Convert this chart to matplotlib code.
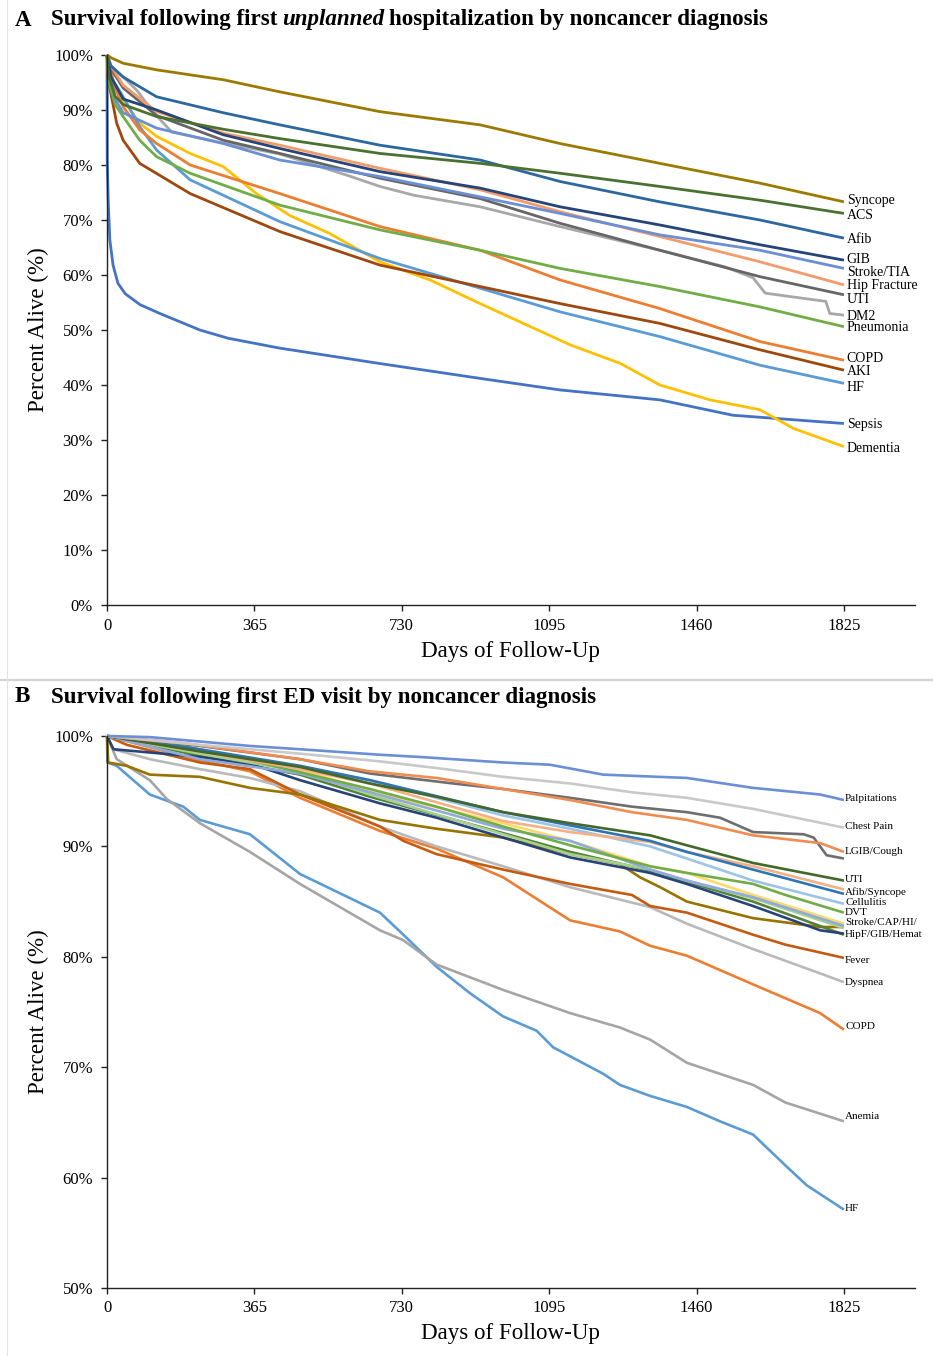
import matplotlib
matplotlib.use("Agg")
import matplotlib.pyplot as plt
from matplotlib.lines import Line2D

plt.rcParams['font.family'] = ['Liberation Serif', 'DejaVu Serif']

DAY_TICKS = [0, 365, 730, 1095, 1460, 1825]

# ---------------- Panel A: first unplanned hospitalization (day, % alive)
A_SYNCOPE = [(0, 100), (10, 99.5), (40, 98.5), (123, 97.3), (288, 95.5), (428, 93.3), (676, 89.7),
             (924, 87.3), (1122, 83.9), (1369, 80.3), (1617, 76.7), (1825, 73.3)]
A_ACS = [(0, 100), (5, 96), (20, 92.5), (40, 91), (123, 88.8), (288, 86.5), (428, 84.8), (676, 82.1),
         (924, 80.3), (1122, 78.5), (1369, 76.1), (1617, 73.6), (1825, 71.2)]
A_AFIB = [(0, 100), (10, 98), (40, 96), (123, 92.4), (288, 89.5), (428, 87.3), (676, 83.6),
          (924, 80.9), (1122, 77.0), (1369, 73.3), (1617, 70.0), (1825, 66.7)]
A_GIB = [(0, 100), (10, 96), (40, 92), (123, 90), (288, 85.5), (428, 83.0), (676, 78.8),
         (924, 75.8), (1122, 72.4), (1369, 69.1), (1617, 65.5), (1825, 62.7)]
A_STROKE_TIA = [(0, 100), (5, 97.5), (20, 92), (40, 89.5), (123, 86.7), (288, 83.9), (428, 80.9),
                (676, 77.9), (924, 74.2), (1122, 71.2), (1369, 67.3), (1617, 64.5), (1825, 61.2)]
A_HIP_FRACTURE = [(0, 100), (10, 98), (40, 94.5), (123, 89.7), (288, 85.8), (428, 83.6), (676, 79.4),
                  (924, 75.5), (1122, 71.5), (1369, 67.0), (1617, 62.4), (1825, 58.2)]
A_UTI = [(0, 100), (10, 97.5), (40, 94), (123, 89), (288, 84.5), (428, 82.1), (676, 77.6),
         (924, 73.9), (1122, 69.4), (1369, 64.5), (1617, 59.7), (1825, 56.4)]
A_DM2 = [(0, 100), (10, 98), (40, 96), (75, 93.5), (110, 90), (160, 86), (288, 84), (428, 82),
         (600, 78), (676, 76.1), (760, 74.5), (924, 72.4), (1122, 68.8), (1369, 64.5), (1530, 61.5),
         (1600, 59.5), (1630, 56.7), (1780, 55.2), (1790, 53.0), (1825, 52.7)]
A_PNEUMONIA = [(0, 100), (5, 95), (20, 91), (40, 88.8), (81, 84.5), (123, 81.5), (206, 78.5),
               (428, 72.7), (676, 68.2), (924, 64.5), (1122, 61.2), (1369, 57.9), (1617, 54.2), (1825, 50.6)]
A_COPD = [(0, 100), (7, 98), (20, 94), (40, 90.6), (81, 86.4), (123, 83.9), (206, 80), (428, 74.8),
          (676, 68.8), (924, 64.5), (1122, 59.1), (1369, 53.9), (1617, 47.9), (1825, 44.5)]
A_AKI = [(0, 100), (3, 95.5), (24, 87.6), (40, 84.5), (81, 80.3), (206, 74.8), (428, 67.9),
         (676, 61.8), (924, 57.9), (1122, 54.8), (1369, 51.2), (1617, 46.4), (1825, 42.7)]
A_HF = [(0, 100), (10, 96), (40, 92.4), (81, 87), (123, 82.7), (206, 77.3), (428, 69.7),
        (676, 63.0), (924, 57.6), (1122, 53.3), (1369, 48.8), (1617, 43.6), (1825, 40.3)]
A_SEPSIS = [(0, 100), (0.5, 81), (3, 73.6), (7, 66.4), (15, 61.8), (27, 58.5), (45, 56.6),
            (82, 54.6), (131, 53.0), (230, 50.0), (300, 48.5), (428, 46.7), (676, 43.9),
            (924, 41.2), (1122, 39.1), (1369, 37.3), (1550, 34.5), (1825, 33.0)]
A_DEMENTIA = [(0, 100), (10, 96), (40, 91.8), (81, 87.6), (123, 85.2), (206, 82.1), (288, 79.7),
              (370, 74.8), (453, 70.8), (550, 67.6), (676, 62.4), (800, 59.1), (924, 54.8),
              (1147, 47.3), (1272, 43.9), (1369, 40.0), (1493, 37.3), (1617, 35.5), (1700, 32.1),
              (1825, 28.8)]

A_LABELS = ["Syncope", "ACS", "Afib", "GIB", "Stroke/TIA", "Hip Fracture", "UTI", "DM2",
            "Pneumonia", "COPD", "AKI", "HF", "Sepsis", "Dementia"]

# ---------------- Panel B: first ED visit (day, % alive)
B_PALPITATIONS = [(0, 100), (106, 99.9), (354, 99.1), (478, 98.8), (676, 98.3), (775, 98.1),
                  (981, 97.6), (1097, 97.4), (1229, 96.5), (1436, 96.2), (1600, 95.3), (1766, 94.7),
                  (1825, 94.2)]
B_CHEST_PAIN = [(0, 100), (230, 99.2), (478, 98.4), (676, 97.7), (816, 97.1), (981, 96.3),
                (1147, 95.7), (1300, 94.9), (1436, 94.4), (1600, 93.4), (1825, 91.7)]
B_LGIB = [(0, 100), (200, 99.3), (478, 97.9), (651, 96.8), (816, 96.2), (981, 95.2), (1147, 94.2),
          (1300, 93.1), (1436, 92.4), (1600, 91.0), (1766, 90.3), (1825, 89.5)]
B_COUGH = [(0, 100), (230, 99.1), (478, 97.9), (651, 96.6), (857, 95.7), (981, 95.2), (1147, 94.4),
           (1300, 93.6), (1436, 93.1), (1518, 92.6), (1600, 91.3), (1725, 91.1), (1750, 90.8),
           (1782, 89.2), (1825, 88.9)]
B_UTI = [(0, 100), (230, 98.6), (478, 97.2), (651, 95.7), (816, 94.5), (981, 93.1), (1147, 92.1),
         (1345, 91.0), (1436, 90.1), (1600, 88.5), (1825, 86.9)]
B_AFIB = [(0, 100), (230, 98.8), (478, 97.3), (651, 96.0), (981, 93.1), (1147, 91.9), (1345, 90.5),
          (1436, 89.5), (1600, 87.9), (1825, 85.7)]
B_SYNCOPE = [(0, 100), (230, 98.6), (478, 97.0), (651, 95.7), (981, 92.3), (1147, 91.3),
             (1345, 90.4), (1436, 89.5), (1600, 88.2), (1825, 86.1)]
B_CELLULITIS = [(0, 100), (230, 98.7), (478, 97.2), (651, 96.0), (981, 92.8), (1147, 91.6),
                (1345, 90.0), (1436, 88.9), (1600, 86.9), (1825, 84.8)]
B_DVT = [(0, 100), (200, 99.0), (354, 97.8), (651, 95.2), (816, 93.6), (981, 91.8), (1147, 90.1),
         (1345, 88.2), (1436, 87.6), (1600, 86.6), (1680, 85.6), (1825, 84.0)]
B_STROKE = [(0, 100), (230, 97.9), (478, 96.6), (651, 94.9), (981, 91.6), (1147, 90.5),
            (1345, 87.9), (1436, 86.9), (1600, 85.4), (1825, 82.8)]
B_CAP = [(0, 100), (230, 98.6), (478, 97.0), (651, 95.0), (981, 92.1), (1147, 90.5), (1345, 88.2),
         (1436, 87.6), (1600, 85.6), (1825, 83.0)]
B_HI = [(0, 100), (230, 98.4), (478, 96.8), (651, 94.7), (981, 91.1), (1147, 89.3), (1345, 87.9),
        (1436, 86.9), (1600, 85.3), (1825, 82.6)]
B_HIPF = [(0, 100), (16, 98.8), (230, 98.1), (354, 97.5), (478, 96.0), (676, 93.9), (816, 92.6),
          (981, 90.8), (1147, 89.0), (1345, 87.6), (1436, 86.6), (1600, 84.6), (1766, 82.4),
          (1825, 82.1)]
B_GIB = [(0, 100), (230, 98.2), (478, 96.5), (651, 94.5), (981, 91.2), (1147, 89.5), (1345, 87.8),
         (1436, 86.8), (1600, 85.0), (1825, 82.0)]
B_HEMAT = [(0, 100), (3, 97.6), (49, 97.3), (106, 96.5), (230, 96.3), (354, 95.3), (478, 94.7),
           (676, 92.4), (816, 91.6), (981, 90.8), (1147, 89.3), (1270, 88.4), (1320, 87.2),
           (1370, 86.3), (1436, 85.0), (1600, 83.5), (1766, 82.7), (1825, 82.7)]
B_FEVER = [(0, 100), (49, 99.2), (230, 97.6), (354, 97.0), (478, 94.7), (676, 91.8), (734, 90.5),
           (816, 89.3), (981, 87.9), (1147, 86.6), (1300, 85.6), (1345, 84.6), (1436, 84.0),
           (1600, 82.0), (1680, 81.1), (1825, 79.9)]
B_DYSPNEA = [(0, 100), (16, 98.8), (106, 97.9), (230, 97.0), (354, 96.2), (478, 95.0), (676, 91.8),
             (816, 90.0), (981, 88.2), (1147, 86.3), (1345, 84.5), (1436, 83.0), (1600, 80.7),
             (1766, 78.5), (1825, 77.7)]
B_COPD = [(0, 100), (230, 97.8), (354, 96.8), (478, 94.4), (676, 91.4), (816, 89.8), (981, 87.2),
          (1147, 83.3), (1270, 82.3), (1345, 81.0), (1436, 80.1), (1600, 77.5), (1766, 74.9),
          (1825, 73.4)]
B_ANEMIA = [(0, 100), (24, 97.9), (106, 96.0), (148, 94.3), (230, 92.1), (354, 89.5), (478, 86.6),
            (676, 82.4), (734, 81.5), (816, 79.3), (981, 77.0), (1147, 74.9), (1270, 73.6),
            (1345, 72.5), (1436, 70.4), (1600, 68.4), (1680, 66.8), (1825, 65.1)]
B_HF = [(0, 100), (1, 97.6), (24, 97.3), (65, 96.0), (106, 94.7), (189, 93.6), (230, 92.4),
        (354, 91.1), (478, 87.5), (676, 84.0), (734, 82.0), (816, 79.1), (899, 76.7), (981, 74.6),
        (1064, 73.3), (1105, 71.8), (1229, 69.4), (1270, 68.4), (1345, 67.4), (1436, 66.4),
        (1518, 65.1), (1600, 63.9), (1683, 61.0), (1733, 59.3), (1825, 57.1)]

B_LABELS = ["Palpitations", "Chest Pain", "LGIB/Cough", "UTI", "Afib/Syncope", "Cellulitis", "DVT",
            "Stroke/CAP/HI/", "HipF/GIB/Hemat", "Fever", "Dyspnea", "COPD", "Anemia", "HF"]

# ---------------------------------------------------------------- layout
W, H = 933, 1356
fig = plt.figure(figsize=(W / 100, H / 100), dpi=100)


def fx(px):
    return px / W


def fy(py):
    return 1 - py / H


def make_axes(top_px, bottom_px, ymin, ymax):
    ax = fig.add_axes([fx(107), fy(bottom_px), fx(914.6) - fx(107), (bottom_px - top_px) / H])
    ax.set_xlim(0, 2000)
    ax.set_ylim(ymin, ymax)
    for side in ("top", "right"):
        ax.spines[side].set_visible(False)
    for side in ("left", "bottom"):
        ax.spines[side].set_linewidth(1.0)
        ax.spines[side].set_color("#222222")
    ax.set_xticks(DAY_TICKS)
    ax.set_xticklabels([str(d) for d in DAY_TICKS])
    yt = list(range(int(ymin), int(ymax) + 1, 10))
    ax.set_yticks(yt)
    ax.set_yticklabels([f"{v}%" for v in yt])
    ax.tick_params(axis="both", labelsize=12, length=4, width=1.0, color="#222222", pad=5)
    ax.tick_params(axis="y", pad=6)
    return ax


def draw(ax, series, colors, lw):
    for pts, c in zip(series, colors):
        xs = [p[0] for p in pts]
        ys = [p[1] for p in pts]
        ax.add_line(Line2D(xs, ys, color=c, lw=lw, solid_joinstyle="round",
                           solid_capstyle="butt", clip_on=False))


# ---------------------------------------------------------------- panel A
axA = make_axes(55, 605, 0, 100)
a_series = [A_SYNCOPE, A_ACS, A_AFIB, A_GIB, A_STROKE_TIA, A_HIP_FRACTURE, A_UTI, A_DM2,
            A_PNEUMONIA, A_COPD, A_AKI, A_HF, A_SEPSIS, A_DEMENTIA]
a_colors = ["#9C7A00", "#4B7130", "#2C67A0", "#264478", "#6A8FD3", "#F39B6B", "#666666",
            "#A8A8A8", "#70AD47", "#ED7D31", "#9E480E", "#5B9BD5", "#4472C4", "#FFC000"]
draw_order = [12, 13, 11, 10, 9, 8, 7, 6, 5, 4, 3, 2, 1, 0]
draw(axA, [a_series[i] for i in draw_order], [a_colors[i] for i in draw_order], 2.0)
a_label_y = [73.5, 70.8, 66.5, 62.8, 60.5, 58.0, 55.5, 52.4, 50.4, 44.8, 42.4, 39.6, 32.9, 28.5]
for lab, yv in zip(A_LABELS, a_label_y):
    axA.text(1832, yv, lab, fontsize=10, va="center", ha="left", clip_on=False)

# ---------------------------------------------------------------- panel B
axB = make_axes(736, 1288, 50, 100)
b_series = [B_HF, B_ANEMIA, B_COPD, B_DYSPNEA, B_FEVER, B_HEMAT, B_GIB, B_HIPF, B_HI, B_CAP,
            B_STROKE, B_DVT, B_CELLULITIS, B_SYNCOPE, B_AFIB, B_UTI, B_COUGH, B_LGIB, B_CHEST_PAIN,
            B_PALPITATIONS]
b_colors = ["#5B9BD5", "#A5A5A5", "#ED7D31", "#B9B9B9", "#C55A11", "#997300", "#548235",
            "#264478", "#A9D18E", "#FFD966", "#8FAADC", "#70AD47", "#9DC3E6", "#F4B183",
            "#2E75B6", "#43682B", "#6E6E6E", "#F08C50", "#C9C9C9", "#6A8FD6"]
draw(axB, b_series, b_colors, 1.9)
b_label_y = [94.3, 91.8, 89.5, 87.0, 85.9, 84.9, 84.0, 83.1, 82.0, 79.7, 77.7, 73.7, 65.5, 57.2]
for lab, yv in zip(B_LABELS, b_label_y):
    axB.text(1828, yv, lab, fontsize=8, va="center", ha="left", clip_on=False)

# ---------------------------------------------------------------- axis titles
for cy in (330, 1012):
    fig.text(fx(38), fy(cy), "Percent Alive (%)", rotation=90, fontsize=16.6,
             ha="center", va="center")
for cy in (651, 1333):
    fig.text(fx(510), fy(cy), "Days of Follow-Up", fontsize=16.6, ha="center", va="center")

# ---------------------------------------------------------------- panel headings
renderer = fig.canvas.get_renderer()


def heading(letter, parts, y_px):
    fig.text(fx(15), fy(y_px), letter, fontsize=16.6, fontweight="bold", va="center")
    x = fx(51)
    for txt, style in parts:
        t = fig.text(x, fy(y_px), txt, fontsize=16.6, fontweight="bold", style=style,
                     va="center")
        bb = t.get_window_extent(renderer)
        x = bb.x1 / W + fx(4.5)


heading("A", [("Survival following first", "normal"), ("unplanned", "italic"),
              ("hospitalization by noncancer diagnosis", "normal")], 20)
heading("B", [("Survival following first ED visit by noncancer diagnosis", "normal")], 697)

# ---------------------------------------------------------------- frames
fig.add_artist(Line2D([0, 1], [fy(680), fy(680)], transform=fig.transFigure,
                      color="#D4D4D4", lw=1.6))
fig.add_artist(Line2D([fx(7.5), fx(7.5)], [0, 1], transform=fig.transFigure,
                      color="#E3E3E3", lw=0.8))

fig.savefig("out.png", dpi=100)
